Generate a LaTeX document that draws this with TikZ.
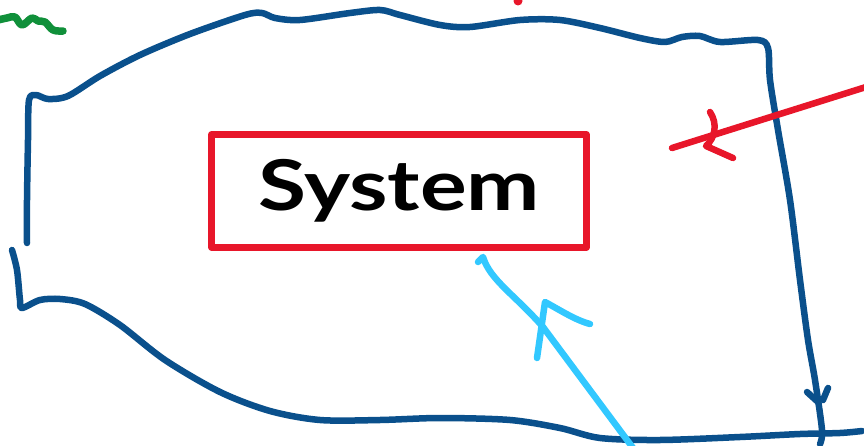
\documentclass[tikz,border=0pt]{standalone}
\usepackage{fontspec}
\setmainfont{Lato}
\definecolor{penblue}{RGB}{10,80,140}
\definecolor{penred}{RGB}{232,22,42}
\definecolor{pencyan}{RGB}{50,200,255}
\definecolor{pengreen}{RGB}{16,144,58}
\tikzset{
  pen/.style={line width=6.5pt, line cap=round, line join=round},
  bluepen/.style={pen, draw=penblue},
  redpen/.style={pen, draw=penred},
  cyanpen/.style={pen, draw=pencyan},
  greenpen/.style={pen, draw=pengreen, line width=7.5pt},
  sysbox/.style={redpen, rectangle, minimum width=375pt, minimum height=113pt,
    inner sep=0pt, text=black, font=\fontsize{70}{70}\bfseries\selectfont},
}
\begin{document}
\begin{tikzpicture}[x=1pt,y=-1pt]
\useasboundingbox (0,0) rectangle (864,446);
\fill[white] (0,0) rectangle (864,446);

% environment boundary (blue)
\draw[bluepen] plot[smooth, tension=0.5] coordinates {
  (27,243) (27,200) (28,140) (29,100) (36,95) (48,99) (68,96) (100,76) (140,55)
  (190,34) (245,15) (262,13) (275,18) (300,20) (350,13) (380,10) (400,15)
  (440,25) (470,27) (520,20) (560,20) (600,28) (640,38) (665,42) (682,37)
  (700,36) (720,42) (758,40) (768,48) (770,80) (778,130) (790,200)
  (800,280) (808,340) (815,380) (822,430) (820,444)};
\draw[bluepen] plot[smooth, tension=0.5] coordinates {
  (12,250) (17,270) (20,300) (22,308) (40,300) (60,299) (85,304)
  (120,325) (165,360) (220,392) (270,411) (320,420) (380,420) (440,418)
  (510,420) (560,428) (600,438) (660,440) (740,437) (800,434) (840,433) (862,431)};
% small arrowhead on the right side
\draw[bluepen] (807,392) -- (818,402);
\draw[bluepen] (828,388) -- (823,400);

% system box
\node[sysbox] (sys) at (399,191) {\raisebox{-4pt}{\scalebox{1.25}[1]{System}}};

% red input arrow
\coordinate (redin) at (866,87);
\coordinate (redtip) at (672,148);
\draw[redpen] (redin) -- (redtip);
\draw[redpen] (710,112) .. controls (718,124) and (715,138) .. (706,146) -- (733,158);

% cyan arrow into the system
\coordinate (cyanin) at (633,448);
\draw[cyanpen] (cyanin) -- (543,327) .. controls (515,295) and (490,280) .. (483,257) -- (478,262);
\draw[cyanpen] (537,358) -- (545,302) .. controls (560,310) and (575,320) .. (590,324);

% red dot at top
\fill[penred] (518,1) circle (4.5pt);

% green squiggle
\draw[greenpen] plot[smooth, tension=0.6] coordinates {
  (-2,20) (7,18) (15,17) (22,25) (32,18) (38,21) (45,22) (53,30) (63,31)};
\end{tikzpicture}
\end{document}
